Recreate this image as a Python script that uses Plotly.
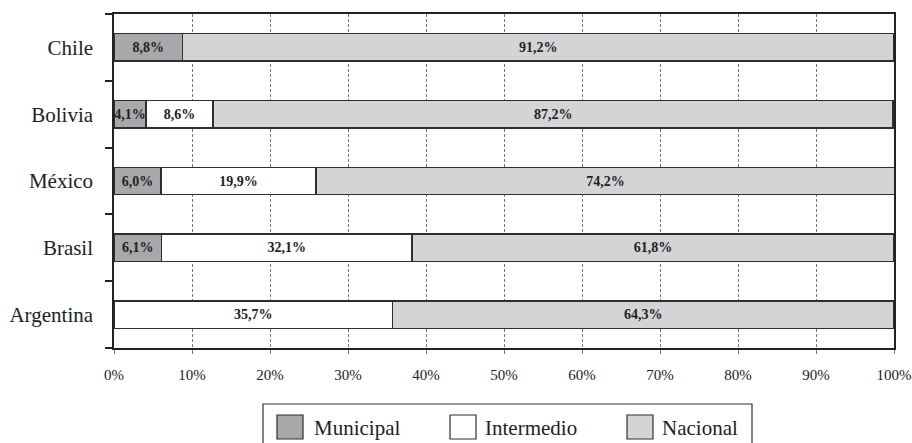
import plotly.graph_objects as go

countries = ["Argentina", "Brasil", "México", "Bolivia", "Chile"]
municipal = [None, 6.1, 6.0, 4.1, 8.8]
intermedio = [35.7, 32.1, 19.9, 8.6, None]
nacional = [64.3, 61.8, 74.2, 87.2, 91.2]
x_ticks = [0, 10, 20, 30, 40, 50, 60, 70, 80, 90, 100]
x_labels = [f"{t}%" for t in x_ticks]

series = [
    ("Municipal", municipal, "#a8a8aa"),
    ("Intermedio", intermedio, "#ffffff"),
    ("Nacional", nacional, "#d4d4d6"),
]
EDGE = "#2e2e2e"
FONT = "Liberation Serif, Times New Roman, serif"

def fmt(v):
    return "" if v is None else f"<b>{v:.1f}%</b>".replace(".", ",")

fig = go.Figure()
for name, vals, color in series:
    fig.add_trace(go.Bar(
        y=countries, x=vals, name=name, orientation="h",
        marker=dict(color=color, line=dict(color=EDGE, width=1.5)),
        text=[fmt(v) for v in vals], textposition="inside",
        insidetextanchor="middle", textangle=0,
        textfont=dict(family=FONT, size=14, color="#222"),
        hoverinfo="skip", showlegend=False,
    ))

FW, FH = 912, 443
L, R, T, B = 114, 894, 14, 348          # plot area in window pixels
W, H = R - L, B - T
px = lambda x: (x - L) / W
py = lambda y: (B - y) / H

# custom legend (box + swatches + labels) in paper coordinates
shapes = [dict(type="rect", xref="paper", yref="paper",
               x0=px(263), x1=px(752), y0=py(404), y1=py(470),
               line=dict(color="#333", width=1.2), fillcolor="white", layer="below")]
annotations = []
legend_pos = [(277, 312), (450, 483), (627, 660)]
for (name, _, color), (sx, tx) in zip(series, legend_pos):
    shapes.append(dict(type="rect", xref="paper", yref="paper",
                       x0=px(sx), x1=px(sx + 26), y0=py(439), y1=py(415),
                       line=dict(color=EDGE, width=1.2), fillcolor=color))
    annotations.append(dict(text=name, xref="paper", yref="paper",
                            x=px(tx), y=py(428), xanchor="left", yanchor="middle",
                            showarrow=False, font=dict(family=FONT, size=21, color="#222")))

fig.update_layout(
    barmode="stack", bargap=0.59,
    width=FW, height=FH,
    margin=dict(l=L, r=FW - R, t=T, b=FH - B),
    plot_bgcolor="white", paper_bgcolor="white",
    font=dict(family=FONT, color="#222"),
    uniformtext=dict(minsize=14, mode="show"),
    showlegend=False,
    shapes=shapes, annotations=annotations,
)
fig.update_xaxes(
    range=[0, 100], tickvals=x_ticks, ticktext=x_labels,
    showgrid=True, gridcolor="#777", griddash="3px,2px", gridwidth=1,
    showline=True, linecolor="#222", linewidth=1.5, mirror=True,
    ticks="outside", ticklen=4, tickcolor="#777", ticklabelstandoff=8,
    tickfont=dict(size=15), zeroline=False,
    automargin=False, ticklabeloverflow="allow",
)
fig.update_yaxes(
    categoryorder="array", categoryarray=countries,
    showline=True, linecolor="#222", linewidth=1.5, mirror=True,
    ticks="outside", tickson="boundaries", ticklen=7, tickcolor="#222", tickwidth=1.5,
    tickfont=dict(size=21), showgrid=False, ticklabelstandoff=15,
    automargin=False,
)
fig.write_html(
    "out.html",
    config={"displayModeBar": False},
    post_script="document.body.style.margin='0';"
                "document.documentElement.style.overflow='hidden';",
)
